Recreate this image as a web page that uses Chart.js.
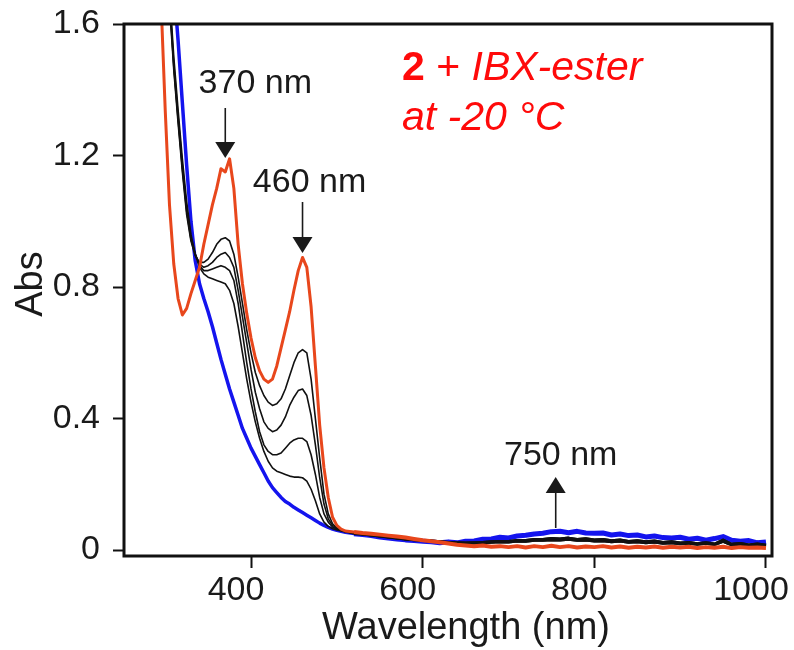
<!DOCTYPE html>
<html>
<head>
<meta charset="utf-8">
<script src="https://cdn.jsdelivr.net/npm/chart.js@4.4.1/dist/chart.umd.min.js"></script>
<style>
  html, body { margin: 0; padding: 0; background: #fff; }
  #wrap { width: 794px; height: 650px; }
</style>
</head>
<body>
<div id="wrap"><canvas id="myChart" width="794" height="650"></canvas></div>
<script>
// wavelength grid (nm): 5 nm steps in the band region, 10 nm in the tail
const wlMain = [285, 290, 295, 300, 305, 310, 315, 320, 325, 330, 335, 340, 345, 350, 355, 360, 365, 370, 375, 380,
    385, 390, 395, 400, 405, 410, 415, 420, 425, 430, 435, 440, 445, 450, 455, 460, 465, 470, 475, 480,
    485, 490, 495, 500, 505, 510];
const wlTail = [520, 530, 540, 550, 560, 570, 580, 590, 600, 610, 620, 630, 640, 650, 660, 670, 680, 690, 700,
    710, 720, 730, 740, 750, 760, 770, 780, 790, 800, 810, 820, 830, 840, 850, 860, 870, 880, 890, 900,
    910, 920, 930, 940, 950, 960, 970, 980, 990, 1000];

// final spectrum (red)
const redMain = [2.2, 1.95, 1.68, 1.34, 1.05, 0.87, 0.765, 0.715, 0.735, 0.78, 0.82, 0.86, 0.93, 0.99, 1.05, 1.1, 1.16, 1.15, 1.19, 1.1,
    0.93, 0.81, 0.72, 0.645, 0.585, 0.545, 0.52, 0.51, 0.52, 0.56, 0.615, 0.67, 0.725, 0.79, 0.85, 0.89, 0.86, 0.74, 0.56, 0.38,
    0.25, 0.16, 0.1, 0.075, 0.064, 0.058];
const redTail = [0.055, 0.052, 0.05, 0.047, 0.044, 0.041, 0.038, 0.034, 0.03, 0.027, 0.024, 0.02, 0.016, 0.014, 0.012, 0.014, 0.01, 0.012, 0.009,
    0.012, 0.008, 0.012, 0.009, 0.013, 0.009, 0.012, 0.008, 0.011, 0.009, 0.012, 0.008, 0.011, 0.007, 0.01, 0.008, 0.011, 0.007, 0.01, 0.008,
    0.01, 0.006, 0.009, 0.007, 0.01, 0.006, 0.009, 0.007, 0.008, 0.006];

// starting spectrum (blue)
const blueMain = [3.0, 2.7, 2.4, 2.1, 1.9, 1.72, 1.55, 1.36, 1.17, 1.0, 0.88, 0.81, 0.765, 0.725, 0.68, 0.63, 0.58, 0.535, 0.49, 0.45,
    0.41, 0.37, 0.34, 0.31, 0.285, 0.26, 0.235, 0.21, 0.19, 0.175, 0.16, 0.148, 0.14, 0.13, 0.122, 0.114, 0.106, 0.098, 0.09, 0.082,
    0.075, 0.069, 0.064, 0.06, 0.057, 0.054];
const blueTail = [0.05, 0.047, 0.044, 0.04, 0.037, 0.034, 0.031, 0.029, 0.027, 0.025, 0.022, 0.025, 0.022, 0.027, 0.028, 0.033, 0.034, 0.039, 0.037,
    0.043, 0.045, 0.049, 0.051, 0.056, 0.057, 0.053, 0.057, 0.052, 0.051, 0.052, 0.046, 0.049, 0.044, 0.046, 0.04, 0.043, 0.038, 0.037, 0.039,
    0.033, 0.036, 0.03, 0.035, 0.041, 0.03, 0.027, 0.029, 0.022, 0.025];

// intermediate spectra (black), highest to lowest at 460 nm
const black1Main = [3.0, 2.6, 2.2, 1.88, 1.66, 1.46, 1.3, 1.15, 1.02, 0.94, 0.895, 0.875, 0.875, 0.885, 0.905, 0.93, 0.945, 0.95, 0.94, 0.9,
    0.83, 0.75, 0.67, 0.6, 0.54, 0.5, 0.47, 0.45, 0.44, 0.445, 0.46, 0.49, 0.53, 0.57, 0.6, 0.61, 0.6, 0.52, 0.4, 0.28,
    0.17, 0.11, 0.08, 0.068, 0.062, 0.058];
const black2Main = [3.0, 2.6, 2.2, 1.89, 1.67, 1.47, 1.31, 1.16, 1.03, 0.945, 0.9, 0.87, 0.86, 0.865, 0.875, 0.89, 0.9, 0.905, 0.89, 0.86,
    0.79, 0.71, 0.63, 0.55, 0.48, 0.43, 0.39, 0.37, 0.36, 0.365, 0.38, 0.405, 0.44, 0.465, 0.485, 0.49, 0.47, 0.41, 0.32, 0.22,
    0.14, 0.095, 0.075, 0.066, 0.061, 0.057];
const black3Main = [3.0, 2.6, 2.2, 1.9, 1.68, 1.48, 1.32, 1.17, 1.04, 0.95, 0.9, 0.865, 0.85, 0.85, 0.855, 0.86, 0.865, 0.86, 0.85, 0.82,
    0.75, 0.66, 0.57, 0.49, 0.42, 0.36, 0.32, 0.3, 0.29, 0.29, 0.295, 0.31, 0.325, 0.335, 0.34, 0.34, 0.33, 0.29, 0.23, 0.16,
    0.11, 0.085, 0.07, 0.064, 0.06, 0.056];
const black4Main = [3.0, 2.6, 2.25, 1.92, 1.7, 1.5, 1.34, 1.19, 1.06, 0.96, 0.9, 0.86, 0.84, 0.83, 0.825, 0.82, 0.815, 0.81, 0.79, 0.75,
    0.68, 0.6, 0.52, 0.45, 0.39, 0.34, 0.3, 0.27, 0.25, 0.24, 0.235, 0.23, 0.225, 0.222, 0.222, 0.22, 0.21, 0.185, 0.15, 0.11,
    0.085, 0.072, 0.065, 0.061, 0.058, 0.055];
const blackTailA = [0.052, 0.049, 0.046, 0.043, 0.04, 0.037, 0.034, 0.032, 0.03, 0.028, 0.026, 0.024, 0.023, 0.022, 0.023, 0.024, 0.026, 0.027, 0.027,
    0.03, 0.03, 0.033, 0.033, 0.036, 0.034, 0.037, 0.033, 0.035, 0.031, 0.033, 0.029, 0.031, 0.027, 0.029, 0.026, 0.028, 0.024, 0.026, 0.022,
    0.024, 0.02, 0.023, 0.019, 0.031, 0.018, 0.021, 0.016, 0.019, 0.015];
const blackTailB = [0.05, 0.048, 0.045, 0.042, 0.039, 0.036, 0.033, 0.031, 0.029, 0.027, 0.025, 0.022, 0.021, 0.02, 0.021, 0.022, 0.023, 0.025, 0.024,
    0.027, 0.026, 0.029, 0.029, 0.031, 0.03, 0.032, 0.029, 0.03, 0.027, 0.028, 0.025, 0.027, 0.023, 0.025, 0.022, 0.024, 0.02, 0.022, 0.019,
    0.02, 0.017, 0.02, 0.016, 0.026, 0.015, 0.018, 0.013, 0.016, 0.012];

const xTickValues = [400, 600, 800, 1000];
const xTickLabels = ['400', '600', '800', '1000'];
const yTickValues = [0, 0.4, 0.8, 1.2, 1.6];
const yTickLabels = ['0', '0.4', '0.8', '1.2', '1.6'];

const wavelengths = wlMain.concat(wlTail);
const FONT = '"Liberation Sans", Arial, sans-serif';

function toPoints(main, tail) {
    return main.concat(tail).map((v, i) => ({ x: wavelengths[i], y: v }));
}

// the noisy tail (> 520 nm) is drawn a bit thicker, like the measured band
function lineSet(label, data, color, width, tailWidth) {
    return {
        label: label,
        data: data,
        borderColor: color,
        borderWidth: width,
        pointRadius: 0,
        tension: 0,
        fill: false,
        borderJoinStyle: 'round',
        segment: {
            borderWidth: c => (c.p0.parsed.x >= wlTail[0] ? tailWidth : undefined)
        }
    };
}

function arrow(ctx, x, yFrom, yTip, dir) {
    const head = 16, half = 10;
    ctx.beginPath();
    ctx.moveTo(x, yFrom);
    ctx.lineTo(x, yTip - dir * head);
    ctx.stroke();
    ctx.beginPath();
    ctx.moveTo(x - half, yTip - dir * head);
    ctx.lineTo(x + half, yTip - dir * head);
    ctx.lineTo(x, yTip);
    ctx.closePath();
    ctx.fill();
}

// frame, axis titles, peak arrows and the red caption
const overlay = {
    id: 'overlay',
    afterDraw(chart) {
        const { ctx, chartArea: a, scales: { x } } = chart;
        ctx.save();
        ctx.strokeStyle = '#111';
        ctx.lineWidth = 3;
        ctx.strokeRect(a.left, a.top, a.right - a.left, a.bottom - a.top);

        ctx.fillStyle = '#1a1a1a';
        ctx.textBaseline = 'alphabetic';
        ctx.textAlign = 'center';
        ctx.font = '38px ' + FONT;
        ctx.fillText('Wavelength (nm)', 466, 639);
        ctx.save();
        ctx.translate(42, 284);
        ctx.rotate(-Math.PI / 2);
        ctx.fillText('Abs', 0, 0);
        ctx.restore();

        ctx.strokeStyle = '#1a1a1a';
        ctx.lineWidth = 1.6;
        ctx.font = '34px ' + FONT;
        const x370 = x.getPixelForValue(370);
        const x460 = x.getPixelForValue(460);
        const x750 = x.getPixelForValue(755);
        ctx.fillText('370 nm', x370 + 30, 93);
        arrow(ctx, x370, 108, 158, 1);
        ctx.fillText('460 nm', x460 + 7, 192);
        arrow(ctx, x460, 202, 253, 1);
        ctx.fillText('750 nm', x750 + 5, 465);
        arrow(ctx, x750, 528, 477, -1);

        // caption
        ctx.fillStyle = '#ff0a0a';
        ctx.textAlign = 'left';
        let cx = 402;
        ctx.font = 'bold 41px ' + FONT;
        ctx.fillText('2', cx, 80);
        cx += ctx.measureText('2').width;
        ctx.font = '41px ' + FONT;
        ctx.fillText(' + ', cx, 80);
        cx += ctx.measureText(' + ').width;
        ctx.font = 'italic 41px ' + FONT;
        ctx.fillText('IBX-ester', cx, 80);
        ctx.fillText('at -20 \u00B0C', 402, 130);
        ctx.restore();
    }
};

const ctx = document.getElementById('myChart').getContext('2d');
new Chart(ctx, {
    type: 'line',
    data: {
        datasets: [
            lineSet('final', toPoints(redMain, redTail), '#e8471c', 3, 4),
            lineSet('int 1', toPoints(black1Main, blackTailA), '#111', 1.6, 2.6),
            lineSet('int 2', toPoints(black2Main, blackTailB), '#111', 1.6, 2.6),
            lineSet('int 3', toPoints(black3Main, blackTailA), '#111', 1.6, 2.6),
            lineSet('int 4', toPoints(black4Main, blackTailB), '#111', 1.6, 2.6),
            lineSet('start', toPoints(blueMain, blueTail), '#1414ee', 3.5, 5)
        ]
    },
    options: {
        responsive: false,
        animation: false,
        events: [],
        layout: { padding: { left: 0, right: 22, top: 24, bottom: 0 } },
        plugins: {
            legend: { display: false },
            tooltip: { enabled: false }
        },
        scales: {
            x: {
                type: 'linear',
                min: 252,
                max: 1007,
                afterBuildTicks: s => { s.ticks = xTickValues.map(v => ({ value: v })); },
                afterFit: s => { s.height = 94; s.paddingLeft = 0; s.paddingRight = 0; },
                border: { display: false },
                grid: { drawOnChartArea: false, tickLength: 12, tickWidth: 2, tickColor: '#111' },
                ticks: {
                    autoSkip: false,
                    maxRotation: 0,
                    padding: 2,
                    labelOffset: -15,
                    color: '#1a1a1a',
                    font: { family: FONT, size: 34 },
                    callback: (v, i) => xTickLabels[i]
                }
            },
            y: {
                type: 'linear',
                min: -0.018,
                max: 1.6,
                afterBuildTicks: s => { s.ticks = yTickValues.map(v => ({ value: v })); },
                afterFit: s => { s.width = 124; s.paddingTop = 0; s.paddingBottom = 0; },
                border: { display: false },
                grid: { drawOnChartArea: false, tickLength: 11, tickWidth: 2, tickColor: '#111' },
                ticks: {
                    padding: 13,
                    color: '#1a1a1a',
                    font: { family: FONT, size: 34 },
                    callback: (v, i) => yTickLabels[i]
                }
            }
        }
    },
    plugins: [overlay]
});
</script>
</body>
</html>
